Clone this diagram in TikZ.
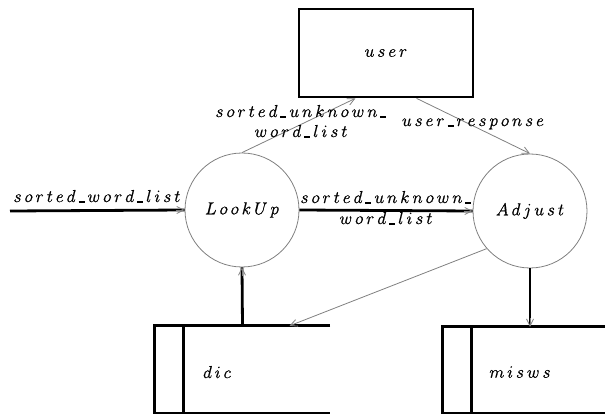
\documentclass[tikz,border=0pt]{standalone}
\usetikzlibrary{arrows.meta,calc}
% letter-spaced math-italic labels, slightly emboldened
\newcommand\us{\rule[-0.8pt]{6pt}{1.5pt}}
\newcommand\spacedtext[1]{\spcA#1\relax}
\def\spcA#1{\ifx#1\relax\unkern\else$#1$\kern3pt\expandafter\spcA\fi}
\newcommand\lbl[1]{{\fontsize{17.28}{20}\selectfont\special{pdf:literal 2 Tr 0.15 w}\spacedtext{#1}\special{pdf:literal 0 Tr}}}
\tikzset{
  flow/.style={line width=2.8pt,black},
  msg/.style={line width=0.8pt,gray,-{Straight Barb[length=7pt,width=7pt,line width=0.8pt]}},
  tipgray/.style={line width=0.8pt,gray,-{Straight Barb[length=7pt,width=7pt,line width=0.8pt]}},
  process/.style={circle,draw=gray,line width=0.8pt,minimum size=114pt,inner sep=0pt},
  entity/.style={rectangle,draw=black,line width=2.8pt,minimum width=174pt,minimum height=88pt},
  storebox/.style={rectangle,inner sep=0pt},
  txt/.style={inner sep=0pt,align=center,font=\fontsize{17.28}{20}\selectfont}
}
\begin{document}
\begin{tikzpicture}[x=1pt,y=-1pt]
\useasboundingbox (0,0) rectangle (605,414);

% external entity
\node[entity] (user) at (386,53) {\lbl{user}};

% processes
\node[process] (lookup) at (242,210) {\lbl{LookUp}};
\node[process] (adjust) at (530,211) {\lbl{Adjust}};

% data stores
\node[storebox,minimum width=175pt,minimum height=87pt] (dic) at (242.5,369.5) {};
\node[storebox,minimum width=162pt,minimum height=86pt] (misws) at (524,370) {};
\draw[flow] (dic.north east) -- (dic.north west) -- (dic.south west) -- (dic.south east);
\draw[flow] ($(dic.north west)+(29,0)$) -- ($(dic.south west)+(29,0)$);
\draw[flow] (misws.north east) -- (misws.north west) -- (misws.south west) -- (misws.south east);
\draw[flow] ($(misws.north west)+(29,0)$) -- ($(misws.south west)+(29,0)$);
\node[txt] (dictxt) at (217,372) {\lbl{dic}};
\node[txt] (miswstxt) at (520,372) {\lbl{misws}};

% input flow
\coordinate (src) at (10,211);
\draw[flow] (src) -- (lookup.west);
\draw[tipgray] ($(lookup.west)+(-9,0)$) -- (lookup.west);
\node[txt,anchor=base] (inlbl) at (97,202) {\lbl{sorted\us word\us list}};

% LookUp -> Adjust
\draw[flow] (lookup.east) -- (adjust.west);
\draw[tipgray] ($(adjust.west)+(-9,0)$) -- (adjust.west);
\node[txt,anchor=base] (midlbl) at (386,224) {\lbl{sorted\us unknown\us}\\[1pt]\lbl{word\us list}};

% LookUp -> user
\draw[msg] (lookup.north) -- (user.236);
\node[txt,anchor=base] (uplbl) at (301,137) {\lbl{sorted\us unknown\us}\\\lbl{word\us list}};

% user -> Adjust
\draw[msg] (user.304) -- (adjust.north);
\node[txt,anchor=base] (resplbl) at (473,126) {\lbl{user\us response}};

% Adjust -> dic
\draw[msg] (adjust.221) -- ($(dic.north)+(47,0)$);

% dic -> LookUp
\draw[flow] (dic.north) -- (lookup.south);
\draw[tipgray] ($(lookup.south)+(0,9)$) -- (lookup.south);

% Adjust -> misws
\draw[flow] (adjust.south) -- (adjust.south |- misws.north);
\draw[tipgray] ($(adjust.south |- misws.north)+(0,-9)$) -- (adjust.south |- misws.north);
\end{tikzpicture}
\end{document}
